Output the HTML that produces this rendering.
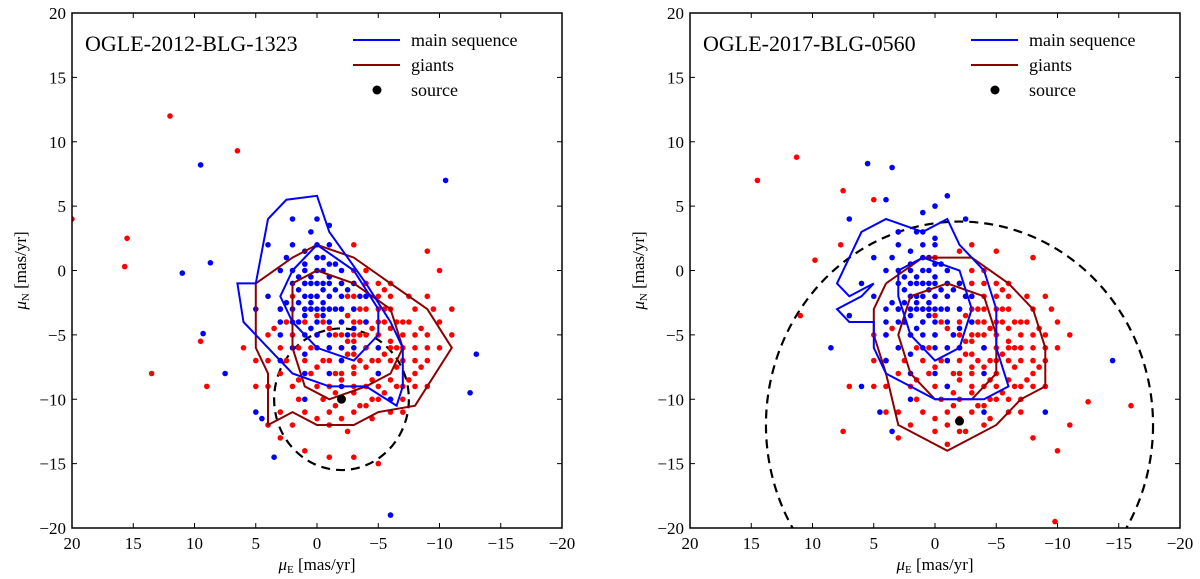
<!DOCTYPE html>
<html><head><meta charset="utf-8"><style>
html,body{margin:0;background:#fff;overflow:hidden;width:1200px;height:579px}
svg{display:block;font-family:"Liberation Serif",serif}
</style></head><body>
<svg id="chart" width="1200" height="579"></svg>
<script>
const ticks=[20,15,10,5,0,-5,-10,-15,-20];
const titles=["OGLE-2012-BLG-1323","OGLE-2017-BLG-0560"];
const lRed=[-3,-5,-4,-6,-2,-4,-5,-5,-1,-6,-6,-7,-3,-8,-4,-3,-2,-7,-7,-5,-5,-8,-1,-3,0,-5,-6,-3,-8,-6,-3,-2,-4,-9,-2,-10,1,-7,2,-5,-9,-7,-7,-9,-5,-10,-3,-11,0,-9,2,-9,3,-6,1,-4,-8,-3,-9,-5,-6,-1,-4,0,-2,-1,0,-2,3,-3,4,-5,-10,-6,-10,-4,-1,-12,1,-11,3,-11,-6,-11,-8,-9,-5,-2,-3,-6.5,-4.5,-4.5,-2.5,-5.5,-5.5,-6.5,-1.5,-8,-6.5,-4,-3.5,-7,-4,-7.5,-1,-4.5,-7,-7,-2,-3,-3,-9.5,0.5,-6,-5,-4,-6,-5.5,-4,-2,-8,-8,2,-12,4,-9,5,-7,-11,-5,-9,-2,0,1,-3,2,1,-1,-7,-11,3,-13,1,-14,-1,-14.5,6,-6,5,-9,4,-12,-9,-9,-2.5,-12.5,-4.5,-11.5,-6.5,-9,-3,-4,-2,-6,-4,-5,-5,-7,-2,-8.5,-6,-8.5,-4.5,-10,-7.5,-2,-1,-7,0,-7.5,-5.5,-3,-3.5,-3,-2.5,-2,-8.5,-4.5,-6.5,-6,-1.5,-10.5,-3.5,-5,1.5,-8.5,2.5,-7,
-3.5,-4,-2.5,-6.5,-4.5,-7,-5.5,-4,-1.5,-5,-6.5,-7.5,-3,-9,-4,-1,-2,-8,-7,-6,-5,-9,-0.5,-4,-0.5,-7,-6,-2,-8,-5,-2.5,-3.5,-4.5,-8.5,-1.5,-9.5,0.5,-8,1.5,-6,-8.5,-7.5,-7.5,-8.5,-5.5,-9.5,-3.5,-10.5,-0.5,-10,1.5,-10,2.5,-4,0.5,-3,-7.5,-4,-9,-6,-5.5,-1.5,-3,-1,-1,-2,1,-3,3,-8,4,-7,-9.5,-3,-1,-11,0,-11.5,-6,-10,-7,-10,-4,-6,-2,-5,-3,-3,-5,-3,-6,-4.5,-7,-4,-3,-7.5,-1,-9,0,-3.5,-4,-10.5,-2,-11.5,-5,-6,-4,-4,-2,-6,-3,-5.5,-6,-6,-8,-7,-5,-1,-3,0,2,-2,3.5,-4.5,
12,12,20,4,15.5,2.5,15.7,0.3,13.5,-8,9.5,-5.5,9,-9,6.5,9.3,-9,1.5,-10,0,-3,-14.5,-5,-15,-11,-3];
const lBlue=[0,-2,-1,-1,1,-3,-2,-2,1,0,0,-4,-1,-3,2,-1,-2,0,0,1,1,-2,-1,-5,2,-4,-3,-3,-2,-4,0.5,-1,-0.5,-2.5,1.5,-1.5,-1.5,-1.5,0,-3,1,1.5,-1,2,2,2,3,0,3,-3,-3,-1,-4,-4,-3,-6,0,-6,2,-6,4,-2,3,-5,-2,-7,-1,-8,1,-8,-5,-6,-4,-2,5,-3,2,4,0,4,-1,3.5,4,2,3,-7,1,-10,-2,-9,-5,-8,-6,-10,0.5,-4.5,-0.5,0,1,-5,2.5,-2.5,-2.5,-5,0.5,-2.5,-0.5,-1.5,1.5,-0.5,0,-1,-1,0.5,1,-3.5,
-0.5,-3,0.5,-3,-1,-2,1,-1,-0.5,-1,0,0,-1.5,-3,1.5,-2.5,-2,-1,0,-5,-1,-4,2,-3,0.5,-0.5,-0.5,1,1,0.5,-2,-3,2,0,0,2,-1,-6,1,-6.5,-3,-4.5,3,-4,-2,-6,-1.5,0.5,0.5,3,2.5,1,-2.5,-1.5,-3.5,-2,1.5,-4,-0.5,-3.5,0.5,-2,-1,-0.5,
9.5,8.2,11,-0.2,8.7,0.6,9.3,-4.9,7.5,-8,-10.5,7,-13,-6.5,-12.5,-9.5,-6,-19,5,-11,3.5,-14.5,4.5,-11.5];
const rRed=[-3,-5,-4,-6,-2,-4,-5,-5,-1,-6,-6,-7,-3,-8,-4,-3,-2,-7,-7,-5,-5,-8,-1,-3,0,-5,-6,-3,-8,-6,-3,-2,-4,-9,-2,-10,1,-7,2,-5,-9,-7,-7,-9,-5,-10,-3,-11,0,-9,2,-9,3,-6,1,-4,-8,-3,-9,-5,-6,-1,-4,0,-2,-1,0,-2,3,-3,4,-5,-10,-6,-10,-4,-1,-12,1,-11,3,-11,-6,-11,-8,-9,-5,-2,-3,-6.5,-4.5,-4.5,-2.5,-5.5,-5.5,-6.5,-1.5,-8,-6.5,-4,-3.5,-7,-4,-7.5,-1,-4.5,-7,-7,-2,-3,-3,-9.5,0.5,-6,-5,-4,-6,-5.5,-4,-2,-8,-8,2,-12,4,-9,5,-7,-11,-5,-9,-2,0,1,-3,2,1,-1,-7,-11,3,-13,-1,-13.5,5,-5,5,-9,4,-11,-9,-9,-2.5,-12.5,-4.5,-11.5,-6.5,-9,-3,-4,-2,-6,-4,-5,-5,-7,-2,-8.5,-6,-8.5,-4.5,-10,-7.5,-2,-1,-7,0,-7.5,-5.5,-3,-3.5,-3,-2.5,-2,-8.5,-4.5,-6.5,-6,-1.5,-10.5,-3.5,-5,1.5,-8.5,2.5,-7,-8,1,-5,1.5,-2,1.5,
-3.5,-4,-2.5,-6.5,-4.5,-7,-5.5,-4,-1.5,-5,-6.5,-7.5,-3,-9,-4,-1,-2,-8,-7,-6,-5,-9,-0.5,-4,-0.5,-7,-6,-2,-8,-5,-2.5,-3.5,-4.5,-8.5,-1.5,-9.5,0.5,-8,1.5,-6,-8.5,-7.5,-7.5,-8.5,-5.5,-9.5,-3.5,-10.5,-0.5,-10,1.5,-10,2.5,-4,0.5,-3,-7.5,-4,-9,-6,-5.5,-1.5,-3,-1,-1,-2,1,-3,3,-8,4,-7,-9.5,-3,-1,-11,0,-11.5,-6,-10,-7,-10,-4,-6,-2,-5,-3,-3,-5,-3,-6,-4.5,-7,-4,-3,-7.5,-1,-9,0,-3.5,-4,-10.5,-2,-11.5,-5,-6,-4,-4,-2,-6,-3,-5.5,-6,-6,-8,-7,-5,-1,-3,0,2,-2,3.5,-4.5,-2,-12.5,-4,-12,0,-12.5,
14.5,7,11.3,8.8,9.8,0.8,7.5,6.2,7.7,2,11,-3.5,7.5,-12.5,-9.8,-19.5,-16,-10.5,-12.5,-10.2,-11,-12,-10,-14,-8,-13,5,5.5,3,3,7,-9];
const rBlue=[1,-2,0,-1,2,-3,-1,-2,2,0,1,-4,0,-3,3,-1,-1,0,1,1,2,-2,0,-5,3,-4,-2,-3,-1,-4,1.5,-1,0.5,-2.5,2.5,-1.5,-0.5,-1.5,1,-3,2,1.5,0,2,3,2,4,0,4,-3,-2,-1,-3,-4,-2,-6,1,-6,3,-6,5,-2,4,-5,-1,-7,0,-8,2,-8,-4,-6,-3,-2,6,-1,3,3,1,3,0,2.5,5,1,4,-7,2,-10,-1,-9,-4,-8,1.5,-4.5,0.5,0,2,-5,3.5,-2.5,-1.5,-5,1.5,-2.5,0.5,-1.5,2.5,-0.5,1,-1,0,0.5,2,-3.5,
0.5,-3,1.5,-3,0,-2,2,-1,0.5,-1,1,0,-0.5,-3,2.5,-2.5,-1,-1,1,-5,0,-4,3,-3,1.5,-0.5,0.5,1,2,0.5,-1,-3,3,0,1,2,0,-6,2,-6.5,-2,-4.5,4,-4,-1,-6,-0.5,0.5,1.5,3,3.5,1,-1.5,-1.5,-2.5,-2,2.5,-4,0.5,-3.5,1.5,-2,0,-0.5,
5.5,8.3,3.5,8,4,5.5,7,4,1,4.5,0,5,-1,5.8,-2.5,4,7,-3.5,8.5,-6,6,-9,4.5,-11,3.5,-12.5,-14.5,-7,-9,-11,-4,-11];
const lBlueC1=[5,-1,4,4,2.5,5.5,0,5.8,-1,3,-4,-1,-6,-4,-7,-6,-7,-9,-6.5,-10.5,-4,-9,-1,-9,2,-8,4,-6,6,-4,6.5,-1,5,-1];
const lBlueC2=[2,0,0,2,-3,0,-5,-3,-5,-5,-3,-7,0,-6,2,-4,3,-2,2,0];
const lRedC1=[5,-1,2,1,0,2,-3,1,-6,-1,-9,-3,-11,-6,-9,-9,-8,-10.5,-5,-11,-3,-12,0,-12,2,-11,4,-12,4,-8,5,-6,5,-3,5,-1];
const lRedC2=[2,-1,0,0,-3,-1,-6,-3,-7,-6,-6,-8,-4,-9,-1,-10,1,-9,2,-6,2,-3,2,-1];
const rBlueC1=[5,-1,7,-2,8,-1,6,3,4,4,1,3,-1,4,-2,2,-4,0,-5,-3,-5,-6,-6,-9,-4,-10,0,-10,2,-9,4,-8,5,-6,5,-4,7,-4,8,-3,6,-2,5,-1];
const rBlueC2=[3,0,1,1,-2,0,-3,-3,-2,-6,0,-7,2,-5,3,-2,3,0];
const rRedC1=[4,-1,1,1,-3,1,-6,-1,-8,-3,-9,-6,-9,-9,-7,-10,-5,-12,-3,-13,-1,-14,1,-13,3,-12,4,-8,5,-5,5,-3,4,-1];
const rRedC2=[2,-2,-1,-1,-4,-2,-5,-5,-5,-8,-3,-10,0,-10,2,-8,3,-5,2,-2];
const sources=[[-2,-10],[-2,-11.7]];
const circles=[[-2,-10,5.5],[-2,-12,15.8]];
const NS="http://www.w3.org/2000/svg";
const svg=document.getElementById('chart');
function mk(t,a,p){const e=document.createElementNS(NS,t);for(const k in a)e.setAttribute(k,a[k]);(p||svg).appendChild(e);return e;}
const panels=[{L:72,data:[lRed,lBlue,lRedC1,lRedC2,lBlueC1,lBlueC2]},{L:690,data:[rRed,rBlue,rRedC1,rRedC2,rBlueC1,rBlueC2]}];
const T=13,B=528,W=490;
panels.forEach((P,i)=>{
 const g=mk('g',{});
 
 
 const X=v=>P.L+(20-v)/40*W, Y=v=>T+(20-v)/40*(B-T);
 const clip=mk('clipPath',{id:'c'+i},g);mk('rect',{x:P.L,y:T,width:W,height:B-T},clip);
 const pg=mk('g',{'clip-path':'url(#c'+i+')'},g);
 const c=circles[i];
 const circ=mk('ellipse',{cx:X(c[0]),cy:Y(c[1]),rx:c[2]/40*W,ry:c[2]/40*(B-T),fill:'none',stroke:'#000','stroke-width':2.2,'stroke-dasharray':'9,6'},pg);
 
 [[P.data[0],'#ff0000','red-giant-points'],[P.data[1],'#0000ff','blue-ms-points']].forEach(([arr,col,nm])=>{
  const sg=mk('g',{fill:col},pg);
  for(let k=0;k<arr.length;k+=2){const d=mk('circle',{cx:X(arr[k]).toFixed(1),cy:Y(arr[k+1]).toFixed(1),r:2.8},sg);
   }
 });
 [[P.data[2],'#8b0000'],[P.data[3],'#8b0000'],[P.data[4],'#0000ff'],[P.data[5],'#0000ff']].forEach(([arr,col],j)=>{
  let pts=[];for(let k=0;k<arr.length;k+=2)pts.push(X(arr[k]).toFixed(1)+','+Y(arr[k+1]).toFixed(1));
  const pl=mk('polyline',{points:pts.join(' '),fill:'none',stroke:col,'stroke-width':2},pg);
  
 });
 const s=sources[i];
 const sd=mk('circle',{cx:X(s[0]),cy:Y(s[1]),r:4.5,fill:'#000'},pg);
 
 const fr=mk('rect',{x:P.L,y:T,width:W,height:B-T,fill:'none',stroke:'#000','stroke-width':1.5},g);
 
 ticks.forEach(t=>{
  const x=X(t),y=Y(t);
  mk('line',{x1:x,y1:T,x2:x,y2:T+5,stroke:'#000'},g);mk('line',{x1:x,y1:B,x2:x,y2:B-5,stroke:'#000'},g);
  mk('line',{x1:P.L,y1:y,x2:P.L+5,y2:y,stroke:'#000'},g);mk('line',{x1:P.L+W,y1:y,x2:P.L+W-5,y2:y,stroke:'#000'},g);
  const lab=t<0?'\u2212'+(-t):''+t;
  const xt=mk('text',{x:x,y:B+21,'font-size':17,'text-anchor':'middle'},g);xt.textContent=lab;
  
  const yt=mk('text',{x:P.L-6,y:y+6,'font-size':17,'text-anchor':'end'},g);yt.textContent=lab;
  
 });
 const xl=mk('text',{x:P.L+W/2,y:570,'font-size':17,'text-anchor':'middle'},g);
 xl.innerHTML='<tspan font-style="italic">μ</tspan><tspan font-size="11" dy="3">E</tspan><tspan dy="-3"> [mas/yr]</tspan>';
 
 const yl=mk('text',{x:0,y:0,'font-size':17,'text-anchor':'middle',transform:`translate(${P.L-46},${(T+B)/2}) rotate(-90)`},g);
 yl.innerHTML='<tspan font-style="italic">μ</tspan><tspan font-size="11" dy="3">N</tspan><tspan dy="-3"> [mas/yr]</tspan>';
 
 const tt=mk('text',{x:P.L+13,y:51,'font-size':22},g);tt.textContent=titles[i];
 
 const lg=mk('g',{},g);
 const lx=P.L+281;
 mk('line',{x1:lx,y1:40,x2:lx+47,y2:40,stroke:'#0000ff','stroke-width':2},lg);
 mk('line',{x1:lx,y1:65,x2:lx+47,y2:65,stroke:'#8b0000','stroke-width':2},lg);
 mk('circle',{cx:lx+24,cy:90,r:4.5,fill:'#000'},lg);
 [['main sequence',46],['giants',71],['source',96]].forEach(([t,y])=>{
  const e=mk('text',{x:lx+58,y:y,'font-size':18},lg);e.textContent=t;
  
 });
});
</script>
</body></html>
